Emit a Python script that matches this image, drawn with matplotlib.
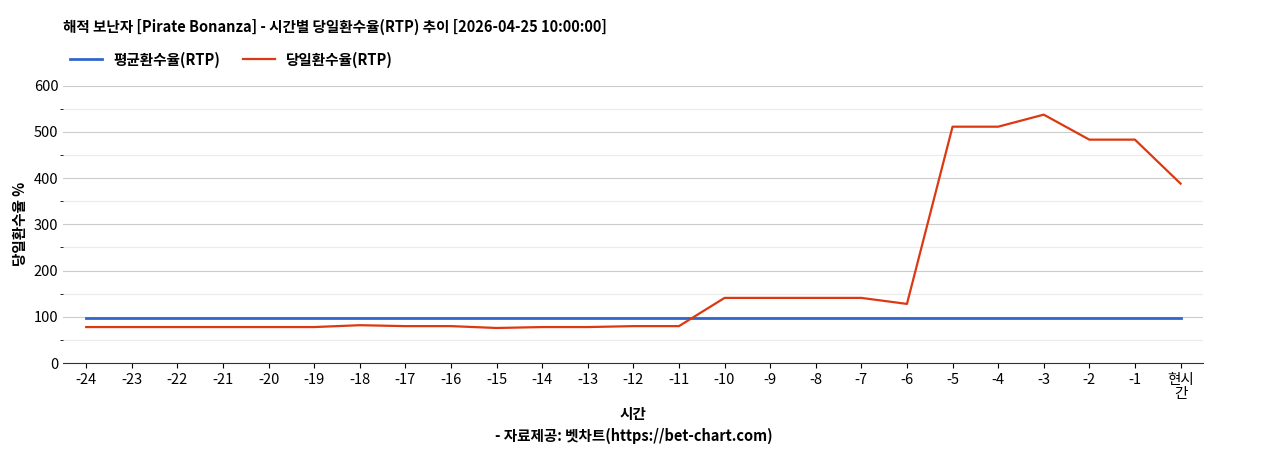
import matplotlib
matplotlib.use("Agg")
import matplotlib.pyplot as plt
from matplotlib.ticker import MultipleLocator

plt.rcParams['font.family'] = ['Noto Sans CJK KR', 'DejaVu Sans']

categories = [str(i) for i in range(-24, 0)] + ['현시\n간']
avg_rtp = [97] * 25
day_rtp = [78, 78, 78, 78, 78, 78, 82, 80, 80, 76, 78, 78, 80, 80,
           141, 141, 141, 141, 128, 511, 511, 537, 483, 483, 388]

fig = plt.figure(figsize=(12.68, 4.5), dpi=100)
ax = fig.add_axes([0.05, 0.193, 0.899, 0.617])
x = range(len(categories))
ax.plot(x, avg_rtp, color='#3366cc', lw=2, label='평균환수율(RTP)')
ax.plot(x, day_rtp, color='#dc3912', lw=1.6, label='당일환수율(RTP)')
ax.set_xlim(-0.5, len(categories) - 0.5)
ax.set_ylim(0, 600)
ax.yaxis.set_major_locator(MultipleLocator(100))
ax.yaxis.set_minor_locator(MultipleLocator(50))
ax.grid(axis='y', which='major', color='#cccccc', lw=0.8)
ax.grid(axis='y', which='minor', color='#ebebeb', lw=0.8)
ax.set_axisbelow(True)
for s in ['top', 'right', 'left']:
    ax.spines[s].set_visible(False)
ax.spines['bottom'].set_color('#333333')
ax.tick_params(axis='y', length=0, labelsize=10.5)
ax.tick_params(axis='x', labelsize=10.5)
ax.set_xticks(list(x))
ax.set_xticklabels(categories, linespacing=1.0)
ax.set_ylabel('당일환수율 %', fontsize=10.5, fontweight='bold')
ax.set_xlabel('시간\n- 자료제공: 벳차트(https://bet-chart.com)', fontsize=10.5,
              fontweight='bold', linespacing=1.4)
fig.text(0.05, 0.93, '해적 보난자 [Pirate Bonanza] - 시간별 당일환수율(RTP) 추이 [2026-04-25 10:00:00]',
         fontsize=10.5, fontweight='bold')
leg = fig.legend(loc='upper left', bbox_to_anchor=(0.045, 0.915), ncol=2, frameon=False,
                 prop={'weight': 'bold', 'size': 10.5}, handlelength=2.2, columnspacing=1.5)
fig.savefig('out.png')
